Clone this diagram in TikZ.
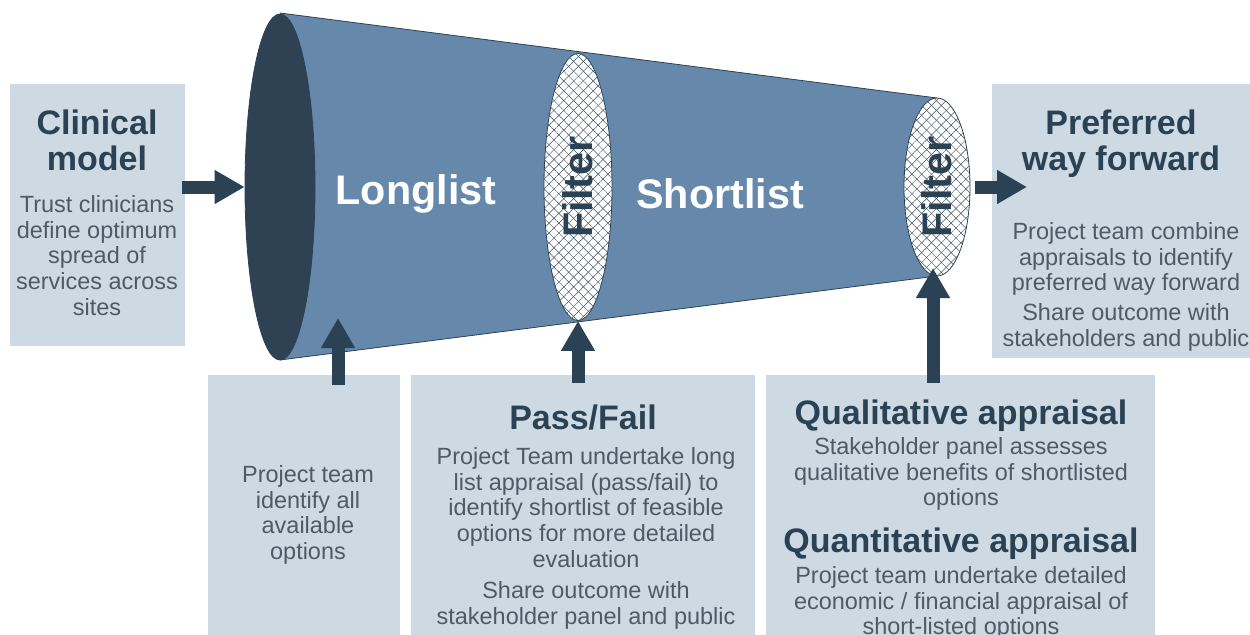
\documentclass[tikz,border=0pt]{standalone}
\usepackage{fontspec}
\setmainfont{Liberation Sans}
\usetikzlibrary{arrows.meta,shapes.geometric,patterns.meta}
\definecolor{boxfill}{HTML}{CDD9E3}
\definecolor{dark}{HTML}{2B4254}
\definecolor{hatch}{HTML}{3E5060}
\definecolor{mouthc}{HTML}{2F4254}
\definecolor{funnelc}{HTML}{6689AB}
\definecolor{bodytxt}{HTML}{4E5A66}
\begin{document}
\begin{tikzpicture}[x=0.75pt,y=-0.75pt,
  box/.style={fill=boxfill,draw=none,inner sep=0,anchor=north west},
  head/.style={font=\fontsize{25.5}{27}\selectfont\bfseries, text=dark, align=center, anchor=north, inner sep=0},
  body/.style={font=\fontsize{17.6}{19.35}\selectfont, text=bodytxt, align=center, anchor=north, inner sep=0},
  big/.style={font=\fontsize{31}{33}\selectfont\bfseries, inner sep=0},
  arr/.style={draw=dark, line width=9.75pt, -{Triangle[width=24pt,length=22.5pt]}},
  filt/.style={ellipse, draw=dark, line width=0.6pt, fill=white, inner sep=0,
    postaction={pattern={Lines[angle=45,distance=5.2pt,line width=0.35pt]}, pattern color=hatch},
    postaction={pattern={Lines[angle=-45,distance=5.2pt,line width=0.35pt]}, pattern color=hatch}}
]
\useasboundingbox (0,0) rectangle (1250,635);

% boxes
\node[box, minimum width=131.25pt, minimum height=196.5pt] (clin) at (10,84) {};
\node[box, minimum width=193.5pt, minimum height=205.5pt] (pref) at (992,84) {};
\node[box, minimum width=144pt, minimum height=195pt] (b1) at (208,375) {};
\node[box, minimum width=258pt, minimum height=195pt] (b2) at (411,375) {};
\node[box, minimum width=291.75pt, minimum height=195pt] (b3) at (766,375) {};

% funnel
\fill[funnelc] (280,13) -- (937,98) -- (937,276) -- (280,360) -- cycle;
\draw[dark, line width=0.6pt] (280,13) -- (937,98) (280,360) -- (937,276);
\node[ellipse, fill=mouthc, draw=dark, line width=0.6pt, inner sep=0, minimum width=52.5pt, minimum height=259.5pt] (mouth) at (280,187) {};
\node[filt, minimum width=51pt, minimum height=200.25pt] (filt1) at (578,187) {};
\node[filt, minimum width=49.5pt, minimum height=133.5pt] (filt2) at (937,187) {};

\node[big, text=white] (long) at (416,194) {Longlist};
\node[big, text=white] (short) at (720,194) {Shortlist};
\node[big, text=dark, rotate=90] (f1t) at (filt1) {Filter};
\node[big, text=dark, rotate=90] (f2t) at (filt2) {Filter};

% arrows
\coordinate (a1s) at (182,187);
\draw[arr] (a1s) -- (mouth.west);
\coordinate (a2s) at (975,187);
\coordinate (a2e) at (1027,187);
\draw[arr] (a2s) -- (a2e);
\coordinate (u1s) at (338,385);
\coordinate (u1e) at (338,318);
\draw[arr] (u1s) -- (u1e);
\coordinate (u2s) at (578,383);
\draw[arr] (u2s) -- (filt1.south);
\coordinate (u3s) at (933,383);
\coordinate (u3e) at (933,268);
\draw[arr] (u3s) -- (u3e);

% texts
\node[head] (clinH) at (97,110) {Clinical\\model};
\node[body] (clinB) at (97,195) {Trust clinicians\\define optimum\\spread of\\services across\\sites};
\node[head] (prefH) at (1121,110) {Preferred\\way forward};
\node[body] (prefB1) at (1126,222) {Project team combine\\appraisals to identify\\preferred way forward};
\node[body] (prefB2) at (1126,303) {Share outcome with\\stakeholders and public};
\node[body] (b1T) at (308,465) {Project team\\identify all\\available\\options};
\node[head] (b2H) at (583,405) {Pass/Fail};
\node[body] (b2B1) at (586,447) {Project Team undertake long\\list appraisal (pass/fail) to\\identify shortlist of feasible\\options for more detailed\\evaluation};
\node[body] (b2B2) at (586,581) {Share outcome with\\stakeholder panel and public};
\node[head] (b3H) at (961,400) {Qualitative appraisal};
\node[body] (b3B1) at (961,437) {Stakeholder panel assesses\\qualitative benefits of shortlisted\\options};
\node[head] (b3H2) at (961,528) {Quantitative appraisal};
\node[body] (b3B2) at (961,566) {Project team undertake detailed\\economic / financial appraisal of\\short-listed options};
\end{tikzpicture}
\end{document}
